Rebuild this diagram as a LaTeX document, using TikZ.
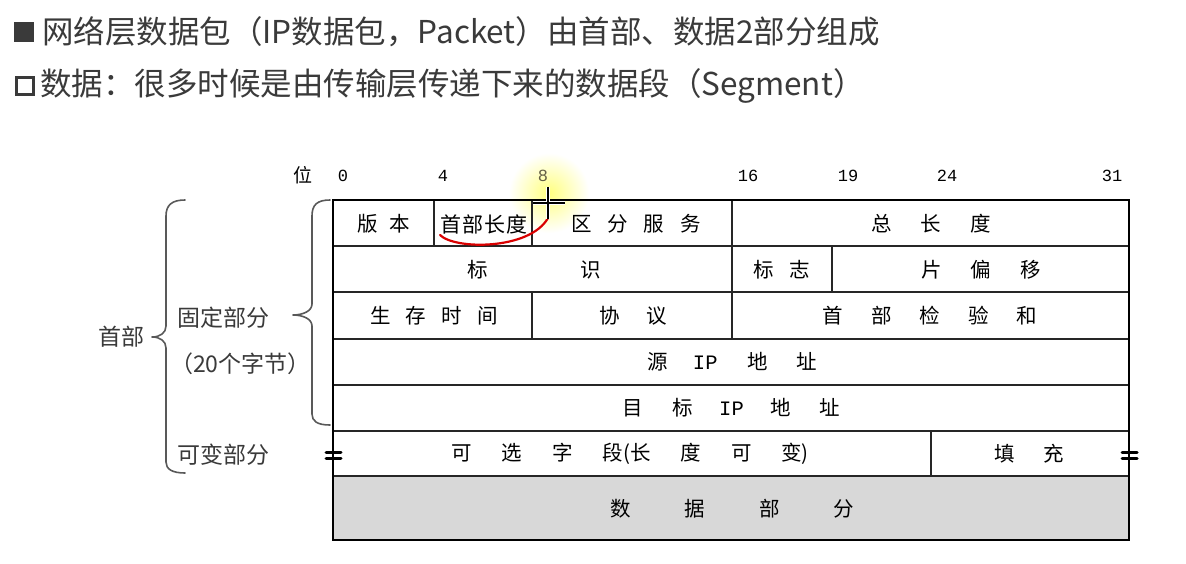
\documentclass[tikz,border=0pt]{standalone}
\usepackage{fontspec}
\setmainfont{Noto Sans CJK SC}
\newfontfamily\cjk{Noto Sans CJK SC}
\newfontfamily\monof{Liberation Mono}
\newcommand\gp[1]{\hspace{#1pt}}
\definecolor{txtgray}{HTML}{3A3A3A}
\definecolor{datagray}{HTML}{D8D8D8}
\begin{document}
\begin{tikzpicture}[x=1pt,y=-1pt,
  cell/.style={font=\cjk\fontsize{20.5}{20.5}\selectfont, inner sep=0pt, anchor=center},
  bitlab/.style={font=\monof\fontsize{17}{17}\selectfont, inner sep=0pt, anchor=center},
  side/.style={font=\cjk\fontsize{23}{23}\selectfont, inner sep=0pt, text=txtgray},
  head/.style={font=\cjk\fontsize{31.5}{31.5}\selectfont, inner sep=0pt, anchor=west, text=txtgray},
  grid/.style={line width=1.3pt, draw=black!85},
  outer/.style={line width=2.4pt, draw=black},
  bracestyle/.style={line width=1.6pt, draw=black!65, line cap=round, line join=round},
  brkbar/.style={line width=3pt, draw=black, line cap=round}
]
\useasboundingbox (0,0) rectangle (1186,564);
\fill[white] (0,0) rectangle (1186,564);

% title lines
\fill[txtgray] (14,22) rectangle (34,42);
\node[head] (t1) at (42,32) {网络层数据包（IP数据包，Packet）由首部、数据2部分组成};
\draw[txtgray, line width=3.5pt] (16.5,77.5) rectangle (33.5,94.5);
\node[head] (t2) at (40,86) {数据：很多时候是由传输层传递下来的数据段（Segment）};

% highlight
\shade[inner color=yellow!50, outer color=white] (549,193) circle (40);

% data row fill
\fill[datagray] (333,476) rectangle (1129,540);

% grid lines
\draw[grid] (333,246) -- (1129,246);
\draw[grid] (333,292) -- (1129,292);
\draw[grid] (333,339) -- (1129,339);
\draw[grid] (333,385) -- (1129,385);
\draw[grid] (333,431) -- (1129,431);
\draw[grid] (333,476) -- (1129,476);
\draw[grid] (434,200) -- (434,246);
\draw[grid] (532,200) -- (532,246);
\draw[grid] (732,200) -- (732,246);
\draw[grid] (832,246) -- (832,292);
\draw[grid] (732,246) -- (732,292);
\draw[grid] (532,292) -- (532,339);
\draw[grid] (732,292) -- (732,339);
\draw[grid] (931,431) -- (931,476);
\draw[outer] (333,200) rectangle (1129,540);

% break marks
\draw[brkbar] (326,452) -- (341,452);
\draw[brkbar] (326,458) -- (341,458);
\draw[brkbar] (1122,452) -- (1137,452);
\draw[brkbar] (1122,458) -- (1137,458);

% bit labels
\node[font=\cjk\fontsize{19}{19}\selectfont, inner sep=0pt] (wei) at (303,175) {位};
\node[bitlab] (b0) at (343,176) {0};
\node[bitlab] (b4) at (443,176) {4};
\node[bitlab, text=black!70!yellow] (b8) at (543,176) {8};
\node[bitlab] (b16) at (748,176) {16};
\node[bitlab] (b19) at (848,176) {19};
\node[bitlab] (b24) at (947,176) {24};
\node[bitlab] (b31) at (1112,176) {31};

% row 1
\node[cell] (ver) at (384,224) {版\gp{12}本};
\node[cell, font=\cjk\fontsize{21}{21}\selectfont] (ihl) at (484,224) {首\gp{1}部\gp{1}长\gp{1}度};
\node[cell] (tos) at (636,224) {区\gp{16}分\gp{16}服\gp{16}务};
\node[cell] (tlen) at (931,224) {总\gp{29}长\gp{29}度};
% row 2
\node[cell] (ident) at (534,270) {标\gp{92}识};
\node[cell] (flags) at (782,270) {标\gp{16}志};
\node[cell] (frag) at (981,270) {片\gp{29}偏\gp{29}移};
% row 3
\node[cell] (ttl) at (434,316) {生\gp{15}存\gp{15}时\gp{15}间};
\node[cell] (proto) at (633,316) {协\gp{27}议};
\node[cell] (csum) at (930,316) {首\gp{28}部\gp{28}检\gp{28}验\gp{28}和};
% row 4,5
\node[cell] (src) at (732,362) {源\gp{25}{\monof IP}\gp{30}地\gp{28}址};
\node[cell] (dst) at (731,408) {目\gp{30}标\gp{26}{\monof IP}\gp{27}地\gp{28}址};
% row 6
\node[cell] (opt) at (630,454) {可\gp{30}选\gp{30}字\gp{30}段(长\gp{30}度\gp{30}可\gp{30}变)};
\node[cell] (pad) at (1029,454) {填\gp{29}充};
% data
\node[cell] (data) at (732,509) {数\gp{54}据\gp{54}部\gp{54}分};

% braces
\draw[bracestyle] (185,200) .. controls (172,200) and (166,205) .. (166,216) -- (166,326)
  .. controls (166,333) and (160,337) .. (152,337)
  .. controls (160,337) and (166,341) .. (166,348) -- (166,462)
  .. controls (166,469) and (172,473) .. (185,473);
\draw[bracestyle] (330,200) .. controls (317,200) and (312,205) .. (312,216) -- (312,304)
  .. controls (312,311) and (303,315) .. (293,315)
  .. controls (303,315) and (312,319) .. (312,326) -- (312,414)
  .. controls (312,421) and (317,425) .. (330,425);

% side labels
\node[side, anchor=east] (hdr) at (145,337) {首部};
\node[side, anchor=west] (fixed) at (177,318) {固定部分};
\node[side, anchor=west] (bytes) at (170,364) {（20个字节）};
\node[side, anchor=west] (var) at (177,455) {可变部分};

% annotation: red stroke and cursor
\draw[red!85!black, line width=2.2pt, line cap=round] (440,235) .. controls (455,250) and (530,250) .. (548,218);
\draw[white, line width=3.5pt] (548,187) -- (548,219) (533,203) -- (565,203);
\draw[black, line width=1.4pt] (548,187) -- (548,219) (533,203) -- (565,203);
\end{tikzpicture}
\end{document}
